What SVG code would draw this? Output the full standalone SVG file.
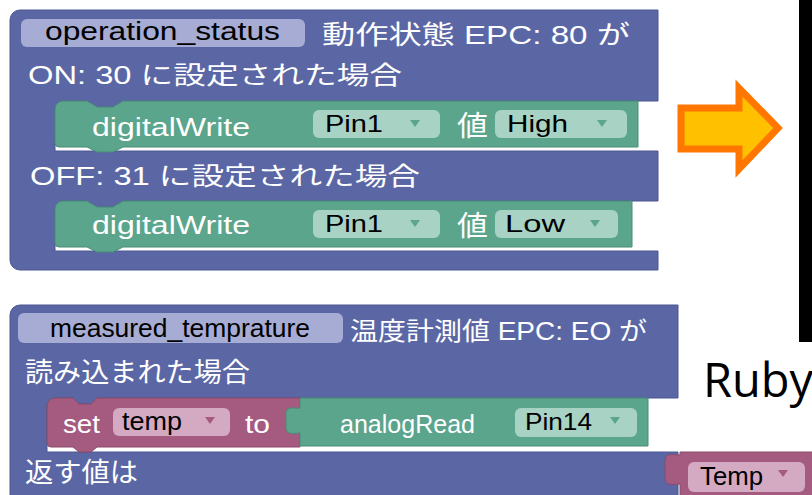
<svg xmlns="http://www.w3.org/2000/svg" width="812" height="495" viewBox="0 0 812 495">
<style>
.blue{fill:#5b67a5;stroke:#4c5793;stroke-width:1}
.green{fill:#5ba58c;stroke:#4a8c76;stroke-width:1}
.mag{fill:#a55b80;stroke:#8c4a6b;stroke-width:1}
.fb{fill:#a6acd3}
.fg{fill:#a7d2c4}
.fm{fill:#d4a9c2}
.tg{fill:#5ba58c}
.tm{fill:#a55b80}
.w{fill:#ffffff;font-family:"Liberation Sans","Noto Sans CJK JP",sans-serif}
.k{fill:#000000;font-family:"Liberation Sans","Noto Sans CJK JP",sans-serif}
</style>
<rect width="812" height="495" fill="#ffffff"/>
<g id="block-operation-status">
<path class="blue" d="M10,20 A10,10 0 0 1 20,10 H658 V101 H123 l-10,6 h-16 l-10,-6 H63 a8,8 0 0 0 -8,8 V151 H658 V201 H123 l-10,6 h-16 l-10,-6 H63 a8,8 0 0 0 -8,8 V251 H658 V270 H20 A10,10 0 0 1 10,260 Z"/>
<rect class="fb" x="21" y="19" width="284" height="28" rx="6"/>
<text class="k" x="45" y="40" font-size="25" textLength="235" lengthAdjust="spacingAndGlyphs">operation_status</text>
<text class="w" x="322" y="44" font-size="26" textLength="308" lengthAdjust="spacingAndGlyphs">動作状態 EPC: 80 が</text>
<text class="w" x="28" y="84" font-size="25" textLength="374" lengthAdjust="spacingAndGlyphs">ON: 30 に設定された場合</text>
<text class="w" x="30" y="185" font-size="25" textLength="390" lengthAdjust="spacingAndGlyphs">OFF: 31 に設定された場合</text>
</g>
<g id="block-digitalwrite-high">
<path class="green" d="M55,109 a8,8 0 0 1 8,-8 H87 l10,6 h16 l10,-6 H638 V147 H123 l-10,5 h-16 l-10,-5 H59 a4,4 0 0 1 -4,-4 Z"/>
<text class="w" x="92" y="136" font-size="25" textLength="158" lengthAdjust="spacingAndGlyphs">digitalWrite</text>
<rect class="fg" x="313" y="110" width="127" height="28" rx="6"/>
<text class="k" x="325" y="132" font-size="24" textLength="58" lengthAdjust="spacingAndGlyphs">Pin1</text>
<polygon class="tg" points="410,120 420,120 415,127"/>
<text class="w" x="457" y="136" font-size="28" textLength="31" lengthAdjust="spacingAndGlyphs">値</text>
<rect class="fg" x="495" y="110" width="132" height="28" rx="6"/>
<text class="k" x="507" y="132" font-size="24" textLength="61" lengthAdjust="spacingAndGlyphs">High</text>
<polygon class="tg" points="597,120 607,120 602,127"/>
</g>
<g id="block-digitalwrite-low">
<path class="green" d="M55,209 a8,8 0 0 1 8,-8 H87 l10,6 h16 l10,-6 H632 V247 H123 l-10,5 h-16 l-10,-5 H59 a4,4 0 0 1 -4,-4 Z"/>
<text class="w" x="92" y="234" font-size="25" textLength="158" lengthAdjust="spacingAndGlyphs">digitalWrite</text>
<rect class="fg" x="313" y="210" width="127" height="28" rx="6"/>
<text class="k" x="325" y="232" font-size="24" textLength="58" lengthAdjust="spacingAndGlyphs">Pin1</text>
<polygon class="tg" points="410,220 420,220 415,227"/>
<text class="w" x="457" y="236" font-size="28" textLength="31" lengthAdjust="spacingAndGlyphs">値</text>
<rect class="fg" x="495" y="210" width="123" height="28" rx="6"/>
<text class="k" x="505" y="232" font-size="24" textLength="60" lengthAdjust="spacingAndGlyphs">Low</text>
<polygon class="tg" points="590,220 600,220 595,227"/>
</g>
<g id="block-measured-temprature">
<path class="blue" d="M10,315 A10,10 0 0 1 20,305 H678 V398 H97 l-6,6 h-12 l-6,-6 H55 a8,8 0 0 0 -8,8 V452 H678 V500 H10 Z"/>
<rect class="fb" x="18" y="313" width="325" height="30" rx="6"/>
<text class="k" x="50" y="337" font-size="25" textLength="260" lengthAdjust="spacingAndGlyphs">measured_temprature</text>
<text class="w" x="350" y="340" font-size="25" textLength="297" lengthAdjust="spacingAndGlyphs">温度計測値 EPC: EO が</text>
<text class="w" x="25" y="382" font-size="27" textLength="225" lengthAdjust="spacingAndGlyphs">読み込まれた場合</text>
<text class="w" x="25" y="482" font-size="27" textLength="113" lengthAdjust="spacingAndGlyphs">返す値は</text>
</g>
<g id="block-set-temp">
<path class="mag" d="M47,406 a8,8 0 0 1 8,-8 H73 l6,6 h12 l6,-6 H300 V447 H97 l-6,5 h-12 l-6,-5 H51 a4,4 0 0 1 -4,-4 Z"/>
<text class="w" x="63" y="433" font-size="25" textLength="37" lengthAdjust="spacingAndGlyphs">set</text>
<rect class="fm" x="113" y="408" width="117" height="28" rx="6"/>
<text class="k" x="122" y="430" font-size="25" textLength="60" lengthAdjust="spacingAndGlyphs">temp</text>
<polygon class="tm" points="205,417 215,417 210,424"/>
<text class="w" x="245" y="433" font-size="25" textLength="25" lengthAdjust="spacingAndGlyphs">to</text>
</g>
<g id="block-analogread">
<path class="green" d="M300,398 H648 V446 H300 V433 C294,433 286,436 286,427 V414 C286,405 294,409 300,408 Z"/>
<text class="w" x="340" y="433" font-size="25" textLength="135" lengthAdjust="spacingAndGlyphs">analogRead</text>
<rect class="fg" x="515" y="408" width="122" height="29" rx="6"/>
<text class="k" x="525" y="430" font-size="24" textLength="67" lengthAdjust="spacingAndGlyphs">Pin14</text>
<polygon class="tg" points="610,417 620,417 615,424"/>
</g>
<g id="block-temp">
<path class="mag" d="M680,452 H815 V500 H680 V484 C674,484 665,487 665,478 V461 C665,452 674,455 680,455 Z"/>
<rect class="fm" x="688" y="462" width="117" height="30" rx="6"/>
<text class="k" x="700" y="485" font-size="25" textLength="63" lengthAdjust="spacingAndGlyphs">Temp</text>
<polygon class="tm" points="778,470 788,470 783,477"/>
</g>
<g id="connectors">
<path d="M681,108 H739 V88 L778,128 L739,169 V149 H681 Z" fill="#ffc000" stroke="#ff7700" stroke-width="7"/>
</g>
<rect x="799" y="0" width="13" height="342" fill="#000000"/>
<text x="703" y="397" font-family="'Open Sans','Noto Sans',sans-serif" font-size="47" fill="#000000">Ruby</text>
</svg>
